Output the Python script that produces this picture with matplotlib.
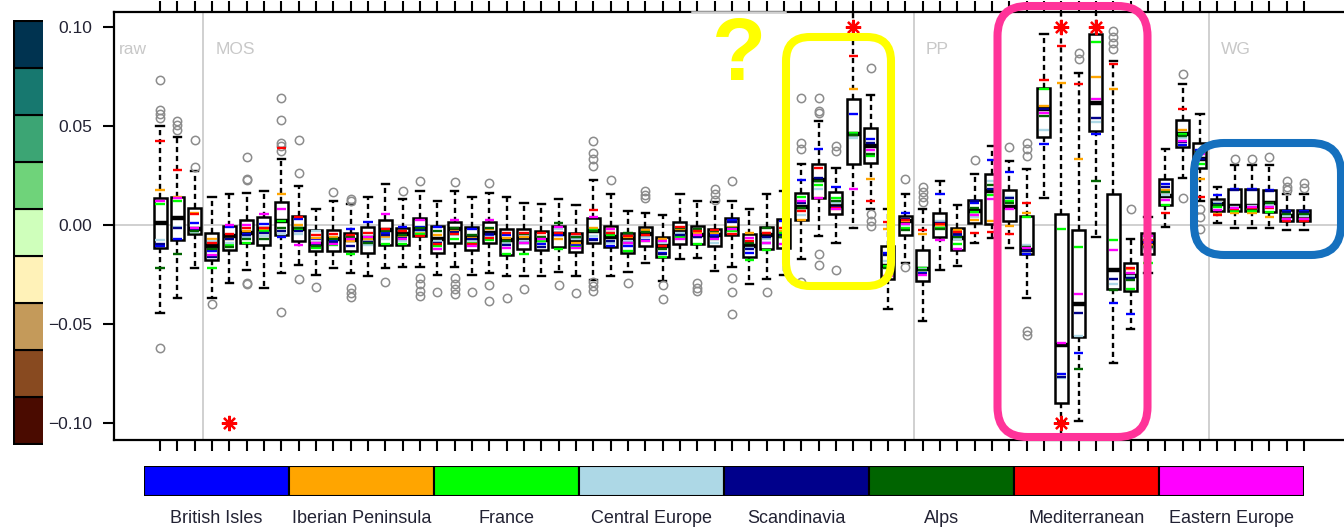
import numpy as np
import matplotlib
matplotlib.use("Agg")
import matplotlib.pyplot as plt
from matplotlib.patches import FancyBboxPatch

plt.rcParams['font.family'] = ['Liberation Sans', 'DejaVu Sans']

# ---------------- data (values in 1e-3) ----------------
whislo = [-44.3, -37.0, -21.9, -37.0, -29.1, -22.9, -31.6, -24.1, -20.2, -25.3,
          -21.5, -24.1, -25.8, -21.9, -21.0, -21.0, -25.3, -21.0, -25.3, -24.1,
          -25.8, -25.8, -25.8, -23.7, -25.8, -27.9, -25.8, -23.7, -19.0, -28.3,
          -17.3, -16.5, -23.2, -21.0, -30.0, -27.4, -25.0, -17.3, -5.6, -8.9,
          -1.7, 8.3, -42.3, -19.0, -48.5, -22.7, -20.7, -8.9, -6.4, -11.8,
          -37.0, 13.5, -115.0, -99.0, -5.9, -69.5, -52.7, -24.0, -0.8, 23.6,
          12.0, 1.2, -1.3, -1.3, -1.3, -2.7, -2.7]
q1 = [-11.8, -7.6, -4.7, -17.8, -12.5, -9.3, -10.1, -5.1, -8.1, -13.1,
      -13.1, -13.1, -14.3, -10.1, -10.1, -5.6, -14.3, -8.9, -12.8, -8.9,
      -15.3, -12.0, -12.8, -10.9, -13.6, -8.9, -10.9, -14.0, -10.6, -16.0,
      -9.8, -9.8, -10.6, -5.1, -16.0, -12.3, -11.4, 2.4, 13.8, 5.4,
      30.7, 31.5, -27.4, -5.2, -28.3, -5.9, -12.6, 1.2, 0.5, 2.0,
      -14.8, 44.6, -90.0, -56.4, 47.5, -32.5, -33.3, -14.8, 9.9, 39.6,
      29.0, 7.1, 7.1, 7.1, 6.8, 2.0, 2.0]
med = [0.8, 3.7, -2.0, -10.6, -5.5, -3.9, -2.2, 2.0, -1.9, -9.4,
       -7.2, -7.6, -6.4, -2.7, -4.7, -2.2, -7.0, -2.2, -6.4, -3.9,
       -7.5, -7.2, -7.5, -4.5, -8.4, -3.0, -5.9, -7.2, -4.7, -10.6,
       -3.5, -5.2, -4.8, -2.0, -10.6, -5.2, -5.6, 9.2, 22.7, 9.6,
       45.8, 39.9, -20.7, 2.0, -22.1, 0.5, -6.4, 7.0, 17.0, 9.3,
       -12.5, 58.4, -60.8, -39.7, 61.8, -22.7, -26.0, -9.0, 14.6, 46.0,
       33.5, 10.5, 9.6, 9.6, 11.3, 4.5, 4.5]
q3 = [13.5, 14.3, 8.4, -3.9, -0.5, 2.4, 4.2, 11.6, 4.5, -2.7,
      -2.7, -3.9, -0.8, 2.4, -1.3, 3.4, -0.5, 1.5, -0.8, 1.5,
      -2.2, -2.2, -3.0, -0.5, -3.9, 3.4, -0.5, -3.9, -0.8, -5.9,
      1.5, -0.5, -2.2, 3.4, -4.4, -0.8, 2.9, 16.3, 30.7, 16.7,
      63.5, 49.2, -10.6, 4.5, -12.6, 6.3, -1.7, 12.6, 25.6, 17.7,
      4.5, 69.4, 5.4, -2.5, 96.3, 15.5, -19.0, -3.8, 23.1, 53.0,
      41.6, 13.3, 18.4, 18.4, 17.7, 7.4, 7.4]
whishi = [49.8, 44.6, 27.3, 14.1, 15.5, 16.3, 17.2, 33.2, 19.7, 8.2,
          12.1, 10.4, 14.1, 20.5, 13.0, 17.2, 12.1, 17.2, 14.3, 16.3,
          14.1, 11.3, 10.4, 13.3, 9.9, 22.6, 15.5, 7.1, 6.2, 5.0,
          15.5, 12.1, 11.6, 12.1, 8.2, 15.5, 17.2, 30.6, 52.5, 29.0,
          115.0, 65.7, 7.9, 15.5, 8.2, 22.2, 9.9, 25.6, 39.9, 32.3,
          28.5, 96.3, 115.0, 77.0, 115.0, 83.0, -6.9, 4.0, 38.6, 71.0,
          55.9, 19.2, 30.2, 30.2, 30.2, 15.9, 15.9]
fliers = [
    [73.2, 58.0, 56.3, 54.2, -62.3], [52.5, 50.5, 48.0], [42.9, 29.3], [-39.7], [],
    [34.2, 23.1, 22.5, -29.1, -30.0], [], [64.3, 53.0, 41.6, 39.9, 37.2, -43.9],
    [42.9, 26.5, -27.4], [-31.3],
    [16.8], [13.0, 12.1, -31.6, -34.5, -36.4], [], [-28.6], [17.2],
    [22.2, -26.6, -29.6, -33.2, -35.9], [-33.8], [21.9, -26.6, -30.0, -32.5, -35.0],
    [-33.8], [21.0, -30.5, -38.4],
    [-36.7], [-32.5], [], [-30.5], [-34.5],
    [42.4, 36.6, 33.2, 29.8, -28.8, -30.8, -33.3], [22.7], [-29.5], [17.2, 15.2, 13.8],
    [-30.5, -37.5],
    [], [-29.1, -31.6, -33.3], [18.0, 15.5, 12.8], [22.0, -26.6, -33.8, -44.8], [],
    [-33.8], [], [64.3, 41.3, 38.2, -29.0], [64.3, 57.6, 56.8, -14.5, -20.4],
    [39.9, 37.4, -22.7],
    [], [79.5, 5.4, 2.0, -0.5], [], [23.1, -21.0], [19.2, 16.7, 14.1, 11.6],
    [], [], [32.8], [], [39.4],
    [41.6, 38.2, 34.8, -53.5, -55.5], [], [], [87.0, 84.0], [],
    [98.0, 95.0, 92.0, 88.7], [7.9], [], [], [76.1, 13.8],
    [7.9, 4.0, -2.2], [], [33.2], [33.2], [34.3], [22.2, 19.4, 17.5], [21.4, 18.9],
]

regions = ["British Isles", "Iberian Peninsula", "France", "Central Europe",
           "Scandinavia", "Alps", "Mediterranean", "Eastern Europe"]
region_colors = ["#0000ff", "#ffa500", "#00ff00", "#add8e6",
                 "#00008b", "#006400", "#ff0000", "#ff00ff"]

british_isles = [-10.6, -6.9, 0.8, -13.0, -0.8, -4.7, 0.3, -5.9, 2.9, -7.0,
                 -8.0, -1.9, 1.5, -4.0, -0.8, -1.0, -0.8, -4.0, -1.9, -5.2,
                 -5.2, -6.0, -9.8, -5.0, -10.0, -7.0, -10.6, -10.6, -7.6, -14.1,
                 -5.9, -3.0, -5.0, 2.4, -14.0, -8.9, 2.0, 22.6, 38.6, 19.4,
                 55.9, 43.6, -14.0, 6.2, -24.0, 15.5, -5.0, 11.0, 32.7, 26.8,
                 -14.5, 40.8, -75.4, -64.8, 45.8, -39.2, -45.1, -8.5, 20.5, 40.5,
                 38.0, 15.2, 18.1, 18.1, 17.7, 7.2, 7.2]
iberian = [17.5, 14.3, 6.3, -6.9, -7.0, -3.0, -2.0, 15.5, 0.0, -6.4,
           -6.0, -8.0, -7.0, -6.0, -6.0, -4.0, -5.2, -3.0, -6.4, -2.0,
           -6.4, -5.9, -5.9, -6.9, -9.0, -1.5, -2.2, -6.0, -2.7, -6.9,
           -2.0, -4.0, -4.0, -1.0, -3.9, -4.0, -3.0, 2.4, 13.8, 8.0,
           68.9, 23.4, -1.9, 1.8, -4.7, 0.0, -2.5, 2.4, 2.0, -0.5,
           6.3, 60.0, 71.9, 33.5, 75.0, 68.9, -22.0, -10.0, 17.5, 48.0,
           23.4, 5.8, 6.0, 6.0, 4.2, 3.0, 3.0]
france = [10.4, 12.1, -3.5, -21.9, -10.0, -8.9, -3.0, 2.0, -2.5, -11.4,
          -10.0, -14.8, -6.0, -9.8, -9.8, -4.5, -10.6, -6.9, -9.0, -7.6,
          -14.8, -14.8, -8.0, -12.0, -11.0, -2.5, -5.0, -13.1, -8.0, -16.0,
          -6.0, -9.8, -7.0, -3.0, -17.7, -12.8, -3.9, 14.1, 20.0, 13.8,
          46.7, 34.8, -20.7, -1.7, -21.7, -1.3, -9.8, 6.4, 15.0, 12.0,
          4.0, 68.9, -2.2, -10.9, 92.4, -7.6, -32.5, -19.0, 10.2, 46.0,
          30.7, 9.0, 7.1, 7.1, 6.8, 5.0, 5.0]
central_europe = [-7.6, -0.8, -3.7, -8.1, -9.0, -6.0, -5.6, -4.5, -4.7, -3.0,
                  -9.0, -6.4, -10.0, -7.0, -8.0, -3.0, -8.0, -5.0, -8.0, -6.0,
                  -9.0, -8.0, -7.0, -2.2, -7.0, -5.6, -9.3, -8.0, -6.0, -9.0,
                  -4.0, -6.0, -9.3, -2.0, -11.4, -7.0, -6.0, 5.0, 18.0, 11.0,
                  44.0, 38.0, -18.0, 0.0, -22.0, 2.0, -7.0, 4.0, 22.0, 14.0,
                  -10.0, 47.8, -77.5, -56.0, 52.0, -30.0, -26.0, -12.0, 15.0, 44.0,
                  36.0, 11.0, 9.0, 9.5, 10.0, 4.5, 4.5]
scandinavia = [-9.8, -1.5, -2.5, -16.2, -7.0, -5.0, -4.0, -3.0, -3.0, -9.5,
               -8.5, -10.6, -8.6, -5.2, -6.5, -2.5, -9.0, -3.5, -7.0, -4.5,
               -10.0, -9.0, -11.0, -4.0, -5.9, -7.7, -8.0, -9.0, -5.0, -14.8,
               -5.0, -5.9, -5.9, 1.5, -12.0, -6.0, -5.0, 10.9, 23.6, 9.3,
               45.5, 41.5, -15.0, 3.0, -24.5, 1.0, -4.7, 12.1, 18.4, 13.5,
               -13.0, 58.6, -76.6, -44.3, 53.9, -27.1, -27.0, -11.0, 19.0, 42.0,
               33.5, 10.5, 17.5, 17.5, 17.2, 6.5, 6.5]
alps = [-21.9, -14.8, -3.2, -12.0, -11.0, -7.0, -6.9, -1.3, -1.7, -10.6,
        -7.0, -5.9, -9.0, -3.0, -5.0, -1.5, -3.0, -1.7, -5.0, -1.7,
        -8.0, -4.7, -6.0, 1.2, -6.0, -3.0, -4.0, -3.9, -3.5, -12.3,
        -1.7, -2.0, -3.0, -1.5, -9.0, -1.7, -5.9, 8.5, 22.0, 12.1,
        45.5, 36.0, -21.5, -2.5, -22.5, -2.2, -6.0, 8.5, 20.0, 11.0,
        -11.0, 55.0, -99.5, -72.5, 22.2, -33.0, -28.0, -11.0, 16.5, 45.0,
        37.0, 10.0, 8.0, 8.0, 11.0, 5.5, 5.5]
mediterranean = [42.6, 27.6, 5.4, -8.9, -4.7, -1.7, -1.3, 38.7, 4.0, -5.2,
                 -4.7, -5.0, -3.9, -2.2, -3.0, -5.6, -9.8, -4.7, -9.8, -6.4,
                 -4.0, -4.0, -3.9, -3.9, -4.7, 7.4, -3.9, -5.6, -5.2, -10.6,
                 -1.0, -3.0, -2.5, -4.7, -8.0, -3.9, -1.3, 7.1, 28.6, 8.8,
                 85.4, 12.3, 1.5, 2.4, -2.7, 0.5, -3.5, -3.8, -3.5, -4.7,
                 11.3, 73.1, 90.4, 71.0, 100.0, 81.2, -21.5, -7.5, 6.3, 58.8,
                 14.3, 4.9, 8.2, 8.5, 8.5, 2.0, 2.0]
eastern_europe = [12.1, 13.5, -1.7, -15.3, -0.2, -0.2, 5.4, 8.3, -10.1, -8.9,
                  -9.8, -7.2, -5.9, 5.4, -6.9, 2.4, -12.3, 2.4, -10.6, 2.4,
                  -11.4, -9.3, -7.2, -0.8, -11.4, 4.0, -1.9, -9.3, -8.1, -8.0,
                  -7.2, -5.2, -6.9, -1.9, -6.4, -9.0, -9.8, 12.1, 13.5, 7.9,
                  18.4, 37.7, -25.8, 0.5, -25.1, -7.6, -12.0, 5.0, 13.0, 7.9,
                  -11.5, 56.6, -59.4, -35.0, 63.5, -12.6, -24.0, -5.5, 12.5, 42.5,
                  35.7, 7.5, 8.8, 9.0, 9.0, 3.0, 3.0]
region_values = [british_isles, iberian, france, central_europe,
                 scandinavia, alps, mediterranean, eastern_europe]

# values outside the +-0.1 range (drawn as red asterisks)
star_box = [5, 41, 53, 53, 55]
star_val = [-100.0, 100.0, 100.0, -100.0, 100.0]

groups = ["raw", "MOS", "PP", "WG"]
group_first = [1, 4, 45, 62]
separators = [3.5, 44.5, 61.5]

cbar_colors = ["#4a0b00", "#884a20", "#c49a5a", "#fff2b8", "#cfffbb",
               "#6fd37a", "#3ca574", "#17786f", "#003350"]

n = len(med)
for arr in [whislo, q1, q3, whishi, fliers] + region_values:
    assert len(arr) == n, len(arr)
pos = np.arange(1, n + 1)
s = 1e-3

# ---------------- figure ----------------
W, H = 1344, 527
fig = plt.figure(figsize=(W / 100, H / 100), dpi=100)


def px_axes(x0, y0, x1, y1, **kw):
    return fig.add_axes([x0 / W, 1 - y1 / H, (x1 - x0) / W, (y1 - y0) / H], **kw)


ax = px_axes(114, 12, 1344, 440)
ax.set_xlim(-1.654, 69.31)
ax.set_ylim(-0.1086, 0.1076)

ax.axhline(0, color="#c4c4c4", lw=1.1, zorder=0)
for sx in separators:
    ax.axvline(sx, color="#c4c4c4", lw=1.1, zorder=0)
for g, gx in zip(groups, group_first):
    ax.text(gx - 2.35 if g == "raw" else gx + 0.2, 0.0885, g, color="#c8c8c8",
            fontsize=12.5, va="center", ha="left")

stats = []
for i in range(n):
    stats.append(dict(whislo=whislo[i] * s, q1=q1[i] * s, med=med[i] * s,
                      q3=q3[i] * s, whishi=whishi[i] * s,
                      fliers=np.array(fliers[i]) * s))

ax.bxp(stats, positions=pos, widths=0.75, capwidths=0.42, patch_artist=True,
       boxprops=dict(facecolor="white", edgecolor="black", linewidth=1.8),
       medianprops=dict(color="black", linewidth=3.2, solid_capstyle="butt"),
       whiskerprops=dict(color="black", linewidth=1.7, linestyle=(0, (2.2, 1.6))),
       capprops=dict(color="black", linewidth=1.7),
       flierprops=dict(marker="o", markerfacecolor="none", markeredgecolor="#8c8c8c",
                       markersize=6, markeredgewidth=1.1),
       zorder=2)

for vals, c in zip(region_values, region_colors):
    ax.hlines(np.array(vals) * s, pos - 0.27, pos + 0.27, colors=c, lw=1.7, zorder=4)

ax.plot(star_box, np.array(star_val) * s, linestyle="none", marker=(8, 2, 0),
        color="red", markersize=11, markeredgewidth=1.6, zorder=5, clip_on=False)

ax.set_xticks(pos)
ax.set_xticklabels([])
ax.tick_params(axis="x", direction="out", length=8, width=1.5, top=True,
               bottom=True, labelbottom=False, color="black")
ax.set_yticks([-0.1, -0.05, 0.0, 0.05, 0.1])
ax.set_yticklabels(["\u22120.10", "\u22120.05", "0.00", "0.05", "0.10"])
ax.tick_params(axis="y", direction="out", length=8, width=1.5, pad=8,
               labelsize=12.5, labelcolor="#222233")
for side in ["left", "bottom", "top"]:
    ax.spines[side].set_linewidth(1.6)
ax.spines["right"].set_visible(False)

# light grey stretch of the top axis
for k, t in enumerate(ax.xaxis.get_major_ticks()):
    if 31 <= k <= 35:
        t.tick2line.set_color("#c8c8c8")
ax.plot([31.69, 37.06], [1, 1], transform=ax.get_xaxis_transform(),
        color="#d0d0d0", lw=1.8, clip_on=False, zorder=6)

# ---------------- colour key on the left ----------------
axc = px_axes(13, 20, 43, 445)
axc.bar(np.zeros(9), np.ones(9), bottom=np.arange(9), width=2.0, align="edge",
        color=cbar_colors, edgecolor="black", linewidth=1.5)
axc.set_xlim(-0.03, 1)
axc.set_ylim(-0.02, 9.02)
axc.axis("off")

# ---------------- region legend strip ----------------
axl = px_axes(144, 466, 1304, 496)
axl.bar(np.arange(8), np.ones(8), width=1.0, color=region_colors,
        edgecolor="black", linewidth=1.5)
axl.set_xlim(-0.5, 7.5)
axl.set_ylim(0, 1)
axl.set_yticks([])
axl.set_xticks(np.arange(8))
axl.set_xticklabels(regions, fontsize=13, color="#222233")
axl.tick_params(axis="x", length=0, pad=10)
for sp in axl.spines.values():
    sp.set_visible(False)

# ---------------- hand-drawn highlight overlays ----------------
ov = px_axes(0, 0, W, H)
ov.set_xlim(0, W)
ov.set_ylim(H, 0)
ov.axis("off")
ov.patch.set_alpha(0)
ov.add_patch(FancyBboxPatch((786, 37), 105, 249, boxstyle="round,pad=0,rounding_size=24",
                            fill=False, ec="#FFFF00", lw=5.8))
ov.add_patch(FancyBboxPatch((997.5, 6), 150, 431, boxstyle="round,pad=0,rounding_size=30",
                            fill=False, ec="#FF3399", lw=5.8))
ov.add_patch(FancyBboxPatch((1194, 143), 147, 112, boxstyle="round,pad=0,rounding_size=30",
                            fill=False, ec="#1570BE", lw=5.8))
ov.text(739, 80, "?", color="#FFFF00", fontsize=64, fontweight="bold",
        ha="center", va="baseline")

fig.savefig("out.png", dpi=100)
